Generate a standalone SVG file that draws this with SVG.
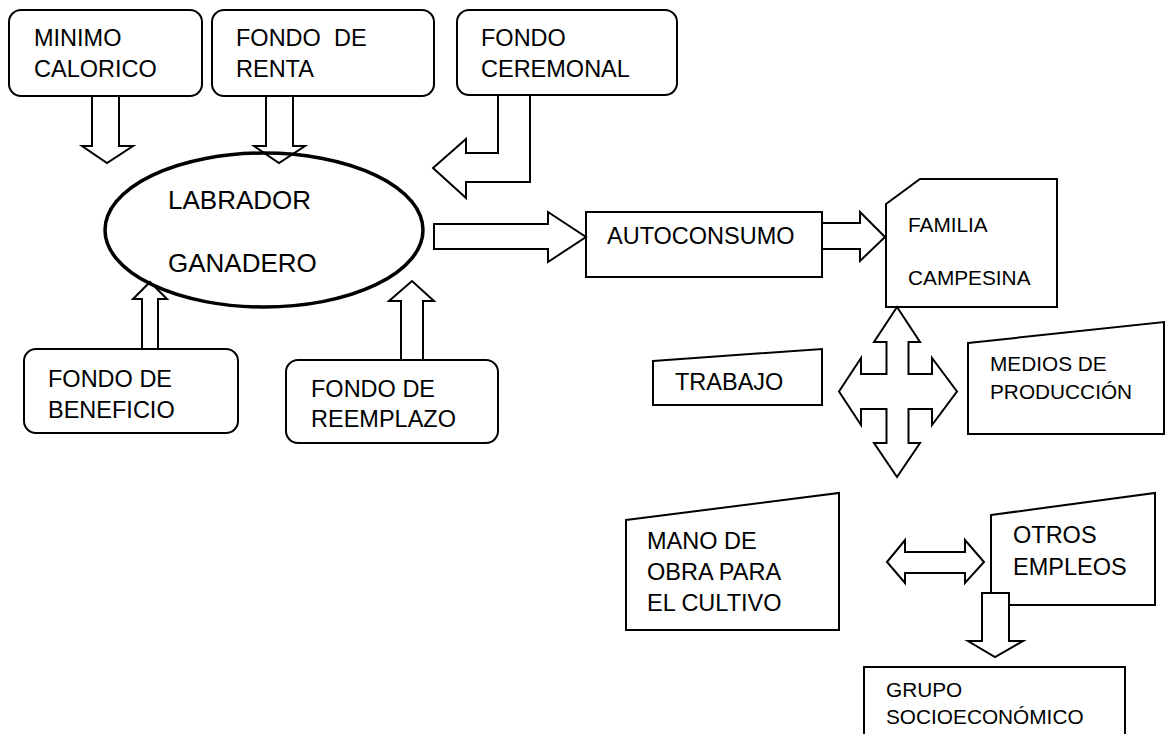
<svg xmlns="http://www.w3.org/2000/svg" width="1168" height="734" viewBox="0 0 1168 734">
<style>
.b{fill:#fff;stroke:#000;stroke-width:2}
.a{fill:#fff;stroke:#000;stroke-width:2;stroke-linejoin:miter}
.t{font-family:"Liberation Sans",Arial,sans-serif;font-size:23.5px;fill:#000}
.s{font-family:"Liberation Sans",Arial,sans-serif;font-size:20.8px;fill:#000}
.l{font-family:"Liberation Sans",Arial,sans-serif;font-size:26px;fill:#000}
</style>
<rect width="1168" height="734" fill="#fff"/>
<g id="minimo-calorico"><rect class="b" x="9" y="10" width="193" height="86" rx="12"/><text class="t" x="34" y="46">MINIMO</text><text class="t" x="34" y="77">CALORICO</text></g>
<g id="fondo-renta"><rect class="b" x="212" y="10" width="222" height="86" rx="12"/><text class="t" x="236" y="46" xml:space="preserve">FONDO  DE</text><text class="t" x="236" y="77">RENTA</text></g>
<g id="fondo-ceremonal"><rect class="b" x="457" y="10" width="220" height="85" rx="12"/><text class="t" x="481" y="46">FONDO</text><text class="t" x="481" y="77">CEREMONAL</text></g>
<g id="fondo-beneficio"><rect class="b" x="24" y="349" width="214" height="84" rx="12"/><text class="t" x="48" y="387">FONDO DE</text><text class="t" x="48" y="418">BENEFICIO</text></g>
<g id="fondo-reemplazo"><rect class="b" x="286" y="360" width="212" height="83" rx="12"/><text class="t" x="311" y="397">FONDO DE</text><text class="t" x="311" y="427">REEMPLAZO</text></g>
<g id="autoconsumo"><rect class="b" x="586" y="212" width="236" height="65"/><text class="t" x="607" y="244">AUTOCONSUMO</text></g>
<g id="familia-campesina"><polygon class="b" points="886,204 920,179 1057,179 1057,307 886,307"/><text class="s" x="908" y="232">FAMILIA</text><text class="s" x="908" y="285">CAMPESINA</text></g>
<g id="trabajo"><polygon class="b" points="653,361 822,349 822,405 653,405"/><text class="t" x="675" y="390">TRABAJO</text></g>
<g id="medios-produccion"><polygon class="b" points="968,343 1164,322 1164,434 968,434"/><text class="s" x="990" y="371">MEDIOS DE</text><text class="s" x="990" y="399">PRODUCCIÓN</text></g>
<g id="mano-obra"><polygon class="b" points="626,520 839,493 839,630 626,630"/><text class="t" x="647" y="549">MANO DE</text><text class="t" x="647" y="580">OBRA PARA</text><text class="t" x="647" y="611">EL CULTIVO</text></g>
<g id="otros-empleos"><polygon class="b" points="991,515 1155,493 1155,605 991,605"/><text class="t" x="1013" y="543">OTROS</text><text class="t" x="1013" y="575">EMPLEOS</text></g>
<g id="grupo-socioeconomico"><rect class="b" x="864" y="667" width="261" height="80"/><text class="s" x="886" y="697">GRUPO</text><text class="s" x="886" y="724">SOCIOECONÓMICO</text></g>
<g id="connectors">
<polygon class="a" points="92,96 119,96 119,146 133,146 107,163 82,146 92,146"/>
<polygon class="a" points="266,96 293,96 293,146 305,146 279,163 254,146 266,146"/>
<polygon class="a" points="498,95 498,153 466,153 466,139 433,168 466,198 466,182 530,182 530,95"/>
<polygon class="a" points="142,349 142,299 133,299 150,282 167,299 158,299 158,349"/>
<polygon class="a" points="401,360 401,301 389,301 412,281 434,301 423,301 423,360"/>
<polygon class="a" points="434,224 548,224 548,212 586,237 548,262 548,249 434,249"/>
<polygon class="a" points="822,223 860,223 860,212 885,237 860,261 860,249 822,249"/>
<polygon class="a" points="897,307 920,342 908.5,342 908.5,374 932,374 932,358 957,391.5 932,425 932,409 908.5,409 908.5,443 920,443 897,477 874,443 886.5,443 886.5,409 861,409 861,425 839,391.5 861,358 861,374 886.5,374 886.5,342 874,342"/>
<polygon class="a" points="887,562 905,540 905,552 965,552 965,540 984,562 965,583 965,573 905,573 905,583"/>
<polygon class="a" points="982,593 1009,593 1009,641 1023,641 995,657 968,641 982,641"/>
<ellipse cx="264" cy="230" rx="159" ry="77" fill="none" stroke="#000" stroke-width="3.5"/>
</g>
<g id="labrador-ganadero"><text class="l" x="168" y="209">LABRADOR</text><text class="l" x="168" y="272">GANADERO</text></g>
</svg>
